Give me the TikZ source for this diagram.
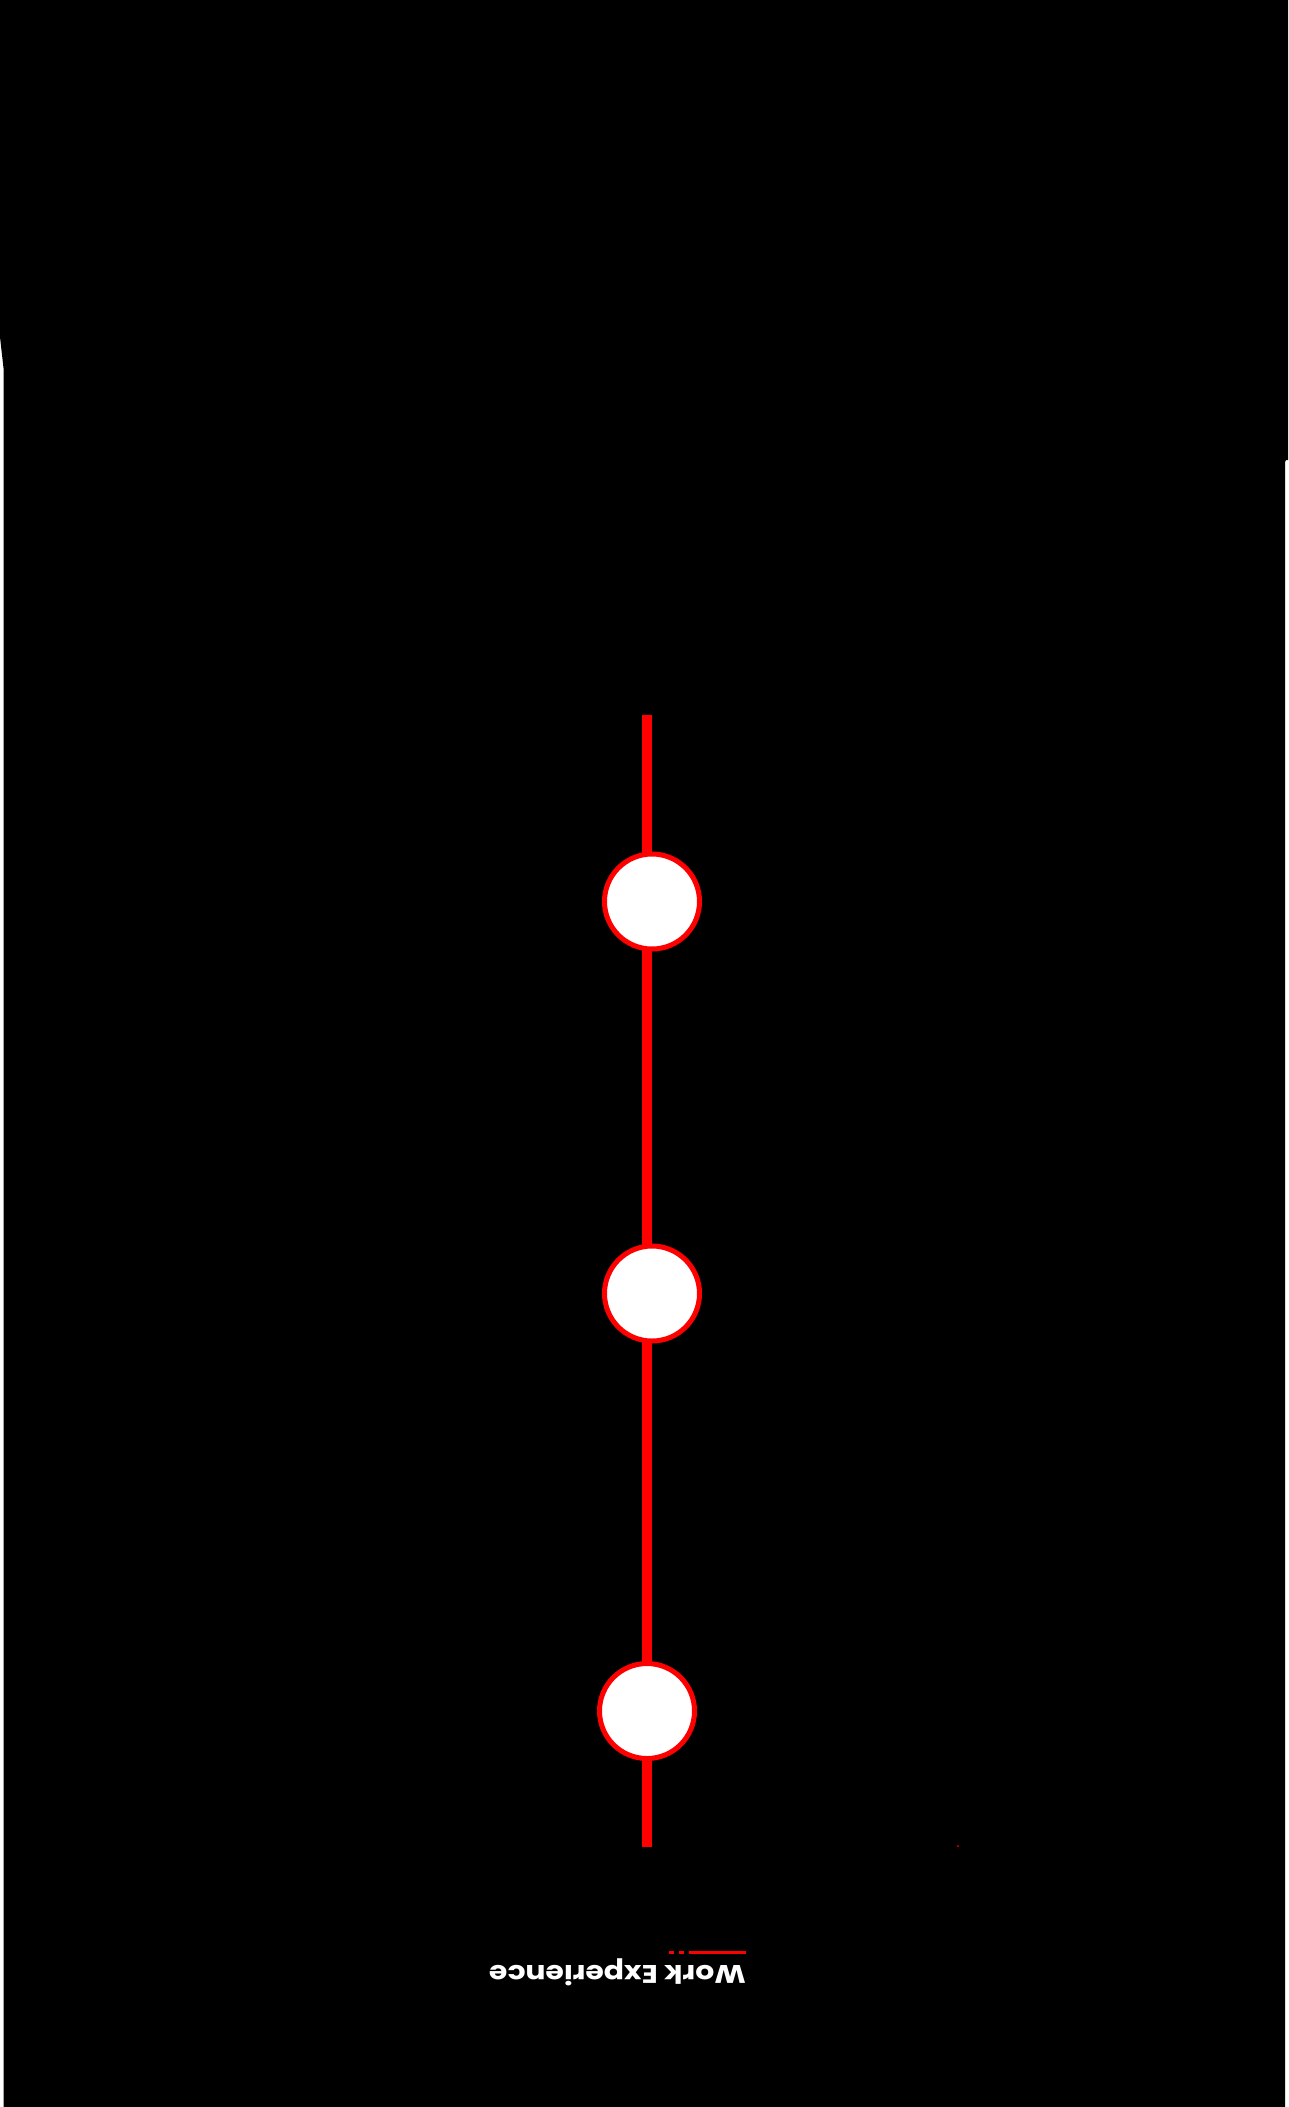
\documentclass[tikz,border=0pt]{standalone}
\usepackage{fontspec}
\setmainfont{Poppins}
\newfontfamily\titlefont{Poppins}[FakeStretch=1.17,BoldFont={* Bold}]
\begin{document}
\begin{tikzpicture}[x=1pt,y=-1pt,
  dot/.style={circle,draw=red,fill=white,line width=5pt,minimum size=95pt,inner sep=0pt},
  tline/.style={red,line width=10pt},
  uline/.style={fill=red}]
\useasboundingbox (0,0) rectangle (1288,2107);
\fill[white] (0,0) rectangle (1288,2107);
\fill[black] (0,0) -- (1288,0) -- (1288,460) -- (1286,460) -- (1285,462) -- (1285,2107)
  -- (3.5,2107) -- (3.5,368) -- (0,337) -- cycle;
\coordinate (ttop) at (647,715);
\coordinate (tbot) at (647,1847);
\draw[tline] (ttop) -- (tbot);
\node[dot] (c1) at (652,901.5) {};
\node[dot] (c2) at (652,1293.5) {};
\node[dot] (c3) at (647,1711) {};
\fill[red] (958,1846) circle (1);
\node[text=white,font=\titlefont\bfseries\fontsize{25.5}{30}\selectfont,rotate=180,anchor=base west,inner sep=0pt] (title) at (746,1965) {Work Experience};
\fill[uline] (689,1951) rectangle (746,1954);
\fill[uline] (679,1951) rectangle (684,1954);
\fill[uline] (669,1951) rectangle (674,1954);
\end{tikzpicture}
\end{document}
